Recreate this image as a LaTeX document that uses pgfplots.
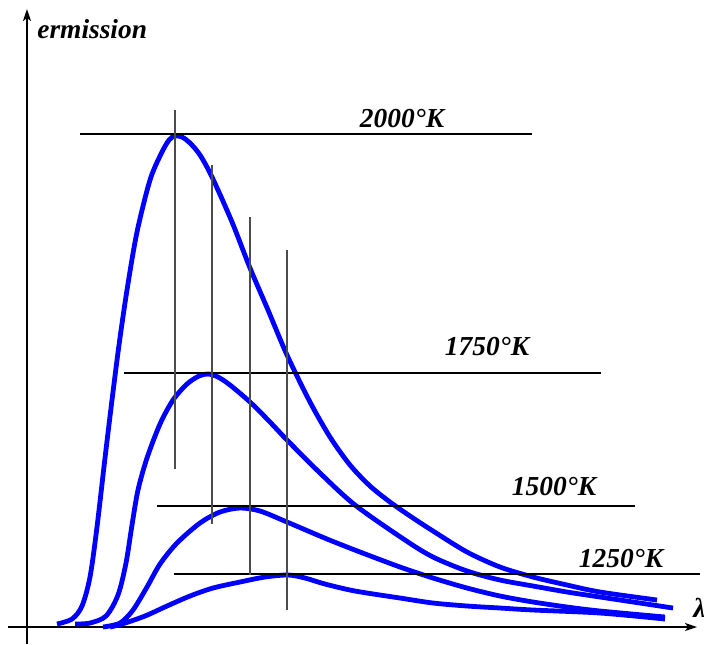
\documentclass[border=0pt]{standalone}
\usepackage{pgfplots}
\pgfplotsset{compat=1.18}
\usetikzlibrary{arrows.meta}
\usepackage{fontspec}
\setmainfont{Liberation Serif}

\newcommand{\lbl}{\bfseries\itshape\fontsize{13.7}{16}\selectfont}

\begin{document}
\begin{tikzpicture}
\begin{axis}[name=ax, hide axis, clip=false,
  x=0.5pt, y=0.5pt, xmin=0, xmax=704, ymin=0, ymax=644, y dir=reverse,
  curve/.style={blue, line width=2.4pt, smooth, tension=0.5},
  hline/.style={black, line width=0.9pt},
  vline/.style={black!70, line width=0.6pt}]

% axes
\addplot[black, line width=0.9pt, -{Stealth[length=6pt,width=4pt,inset=1.5pt]}] coordinates {(8,627) (697,627)};
\addplot[black, line width=0.9pt, -{Stealth[length=6pt,width=4pt,inset=1.5pt]}] coordinates {(27,644) (27,9)};

% 2000 K
\addplot[curve] coordinates {
(57,624) (72,619) (82,606) (90,577) (97,527) (105,458) (112,400) (119,345)
(127,290) (137,232) (150,180) (161,154) (169,140) (175,136) (182,137)
(190,143) (200,155) (212,177) (232,222) (250,268) (268,310) (287,355)
(310,402) (330,437) (350,465) (370,486) (390,502) (410,516) (433,531)
(467,552) (500,567) (533,577) (567,585) (600,592) (657,600)};

% 1750 K
\addplot[curve] coordinates {
(75,624) (90,623) (106,616) (118,595) (126,563) (132,525) (138,490)
(147,458) (160,424) (173,400) (187,384) (199,376) (208,374) (218,377)
(230,385) (250,402) (270,422) (287,440) (320,473) (355,505) (405,540)
(433,557) (467,571) (500,580) (533,586) (567,592) (600,597) (673,608)};

% 1500 K
\addplot[curve] coordinates {
(103,627) (120,623) (133,610) (147,587) (160,564) (177,543) (200,523)
(220,512) (240,508) (260,511) (287,522) (327,539) (360,552) (400,567)
(433,578) (467,588) (500,596) (533,602) (567,607) (600,611) (665,617)};

% 1250 K
\addplot[curve] coordinates {
(110,627) (122,624) (145,616) (167,606) (190,596) (213,588) (240,582)
(265,577) (288,575) (305,578) (325,584) (355,591) (400,598) (433,603)
(467,606) (500,608) (533,610) (600,613) (665,619)};

% peak lines
\addplot[hline] coordinates {(80,134) (532,134)};
\addplot[hline] coordinates {(124,373) (601,373)};
\addplot[hline] coordinates {(157,506) (635,506)};
\addplot[hline] coordinates {(174,574) (700,574)};
\addplot[vline] coordinates {(175,110) (175,469)};
\addplot[vline] coordinates {(212,165) (212,524)};
\addplot[vline] coordinates {(250,217) (250,575)};
\addplot[vline] coordinates {(287,250) (287,610)};

\node[anchor=base west, inner sep=0pt] at (axis cs:37,38) {\lbl ermission};
\node[anchor=base west, inner sep=0pt] at (axis cs:693,617) {\lbl λ};
\node[anchor=base, inner sep=0pt] at (axis cs:402,127) {\lbl 2000°K};
\node[anchor=base, inner sep=0pt] at (axis cs:487,355) {\lbl 1750°K};
\node[anchor=base, inner sep=0pt] at (axis cs:554,495) {\lbl 1500°K};
\node[anchor=base, inner sep=0pt] at (axis cs:621,567) {\lbl 1250°K};
\end{axis}
\pgfresetboundingbox
\path[use as bounding box] (ax.south west) rectangle (ax.north east);
\end{tikzpicture}
\end{document}
